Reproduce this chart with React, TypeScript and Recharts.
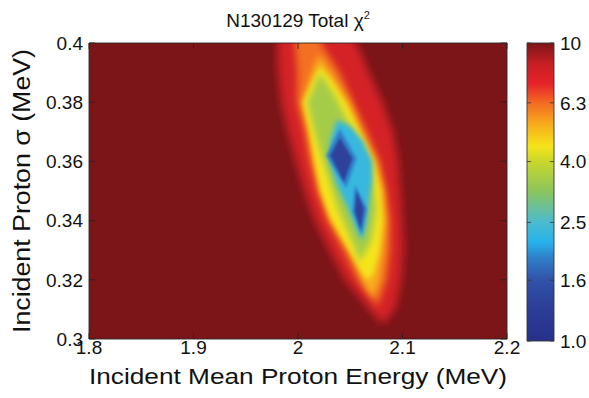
import React from 'react';
import { ScatterChart, Scatter, XAxis, YAxis, ReferenceArea, ReferenceLine } from 'recharts';

// Axis ticks
const energyTicks = [1.8, 1.9, 2.0, 2.1, 2.2];
const sigmaTicks = [0.3, 0.32, 0.34, 0.36, 0.38, 0.4];
const colorbarTicks = [1.0, 1.6, 2.5, 4.0, 6.3, 10];
const colorbarLabels = ['1.0', '1.6', '2.5', '4.0', '6.3', '10'];

// Colormap anchors (chi^2 value -> colour), log-spaced colour bar
const cmapValues = [1.0, 1.3, 1.6, 1.9, 2.15, 2.5, 3.2, 4.0, 4.5, 5.3, 6.3, 7.3, 8.5, 10];
const cmapColors = [
  '#27308b', '#2c3e98', '#3152a9', '#2f7fc9', '#27b3ec', '#4bbbd0', '#8dc55a',
  '#c9d72c', '#f5e41b', '#f8ae1c', '#f36a22', '#e6232a', '#c81e24', '#7c1518',
];

// Contour rings of total chi^2: [incident mean proton energy (MeV), proton sigma (MeV)]
const ring10: [number, number][] = [
  [1.98, 0.406], [1.98, 0.4], [1.981, 0.39], [1.984, 0.38], [1.99, 0.37], [1.998, 0.36],
  [2.006, 0.35], [2.016, 0.34], [2.03, 0.33], [2.045, 0.32], [2.068, 0.31], [2.081, 0.305],
  [2.093, 0.31], [2.099, 0.32], [2.101, 0.33], [2.1, 0.34], [2.098, 0.35], [2.096, 0.36],
  [2.091, 0.37], [2.081, 0.38], [2.068, 0.39], [2.056, 0.4], [2.051, 0.406],
];
const ring63: [number, number][] = [
  [1.996, 0.406], [1.997, 0.4], [1.999, 0.39], [1.999, 0.38], [2.006, 0.37], [2.011, 0.36],
  [2.018, 0.35], [2.028, 0.34], [2.043, 0.33], [2.057, 0.32], [2.076, 0.311], [2.085, 0.32],
  [2.088, 0.33], [2.088, 0.34], [2.084, 0.35], [2.078, 0.36], [2.066, 0.37], [2.053, 0.38],
  [2.04, 0.39], [2.022, 0.4], [2.019, 0.406],
];
const ring52: [number, number][] = [
  [2.02, 0.396], [2.032, 0.39], [2.049, 0.38], [2.061, 0.37], [2.075, 0.36], [2.082, 0.35],
  [2.084, 0.34], [2.082, 0.33], [2.078, 0.32], [2.072, 0.314], [2.064, 0.318], [2.05, 0.33],
  [2.032, 0.34], [2.022, 0.35], [2.016, 0.36], [2.011, 0.37], [2.004, 0.38], [2.013, 0.39],
];
const ring45: [number, number][] = [
  [2.021, 0.392], [2.031, 0.388], [2.047, 0.379], [2.059, 0.37], [2.072, 0.36], [2.079, 0.35],
  [2.081, 0.34], [2.078, 0.33], [2.072, 0.322], [2.066, 0.32], [2.06, 0.323], [2.047, 0.331],
  [2.031, 0.341], [2.022, 0.35], [2.016, 0.36], [2.011, 0.37], [2.005, 0.38], [2.015, 0.388],
];
const ring35: [number, number][] = [
  [2.021, 0.39], [2.037, 0.381], [2.051, 0.371], [2.069, 0.36], [2.075, 0.344], [2.07, 0.333],
  [2.059, 0.326], [2.055, 0.33], [2.038, 0.344], [2.024, 0.36], [2.015, 0.371], [2.009, 0.38],
];
const ring25: [number, number][] = [
  [2.037, 0.374], [2.05, 0.372], [2.062, 0.367], [2.071, 0.36], [2.071, 0.354], [2.067, 0.344],
  [2.065, 0.338], [2.061, 0.333], [2.055, 0.338], [2.048, 0.344], [2.037, 0.352], [2.03, 0.36],
  [2.031, 0.367],
];
const ring19a: [number, number][] = [[2.04, 0.371], [2.056, 0.361], [2.046, 0.351], [2.027, 0.362]];
const ring19b: [number, number][] = [[2.0545, 0.352], [2.066, 0.344], [2.061, 0.335], [2.052, 0.343]];
const ring15a: [number, number][] = [[2.04, 0.368], [2.052, 0.361], [2.044, 0.353], [2.031, 0.362]];
const ring15b: [number, number][] = [[2.056, 0.35], [2.063, 0.344], [2.06, 0.337], [2.0545, 0.343]];

const contourRings = [ring10, ring63, ring52, ring45, ring35, ring25, ring19a, ring19b, ring15a, ring15b];
const contourFillValues = [8.0, 6.2, 5.3, 4.5, 3.5, 2.3, 1.9, 1.9, 1.35, 1.35];

// Softening per contour (px of Gaussian blur)
const contourBlur = [4, 3.5, 3.2, 2.8, 3, 2.5, 1.6, 1.6, 1.2, 1.2];

const W = 589;
const H = 398;
const Y_AXIS_W = 50;
const X_AXIS_H = 26;
const FONT = '"Liberation Sans", Arial, Helvetica, sans-serif';
const BG = '#7b1518';

const hexToRgb = (h: string) => [1, 3, 5].map((i) => parseInt(h.slice(i, i + 2), 16));

function colormap(v: number): string {
  const lv = Math.log10(v);
  const ls = cmapValues.map((x) => Math.log10(x));
  if (lv <= ls[0]) return cmapColors[0];
  for (let i = 1; i < ls.length; i++) {
    if (lv <= ls[i]) {
      const t = (lv - ls[i - 1]) / (ls[i] - ls[i - 1]);
      const a = hexToRgb(cmapColors[i - 1]);
      const b = hexToRgb(cmapColors[i]);
      const c = a.map((x, k) => Math.round(x + (b[k] - x) * t));
      return `rgb(${c[0]},${c[1]},${c[2]})`;
    }
  }
  return cmapColors[cmapColors.length - 1];
}

const filledRing = (color: string, filterId: string) => (props: any) => {
  const pts: { x: number; y: number }[] = props.points || [];
  if (!pts.length) return <g />;
  const d = pts.map((p, i) => `${i ? 'L' : 'M'}${p.x},${p.y}`).join(' ') + ' Z';
  return <path d={d} fill={color} stroke="none" filter={`url(#${filterId})`} />;
};

const noMarker = () => <g />;

export default function App() {
  const tickStyle = { fontSize: 19, fill: '#111', fontFamily: FONT };
  return (
    <div
      style={{
        position: 'fixed', left: 0, top: 0, width: W, height: H,
        background: '#fff', fontFamily: FONT, overflow: 'hidden',
      }}
    >
      <svg width={0} height={0} style={{ position: 'absolute' }}>
        <defs>
          {contourBlur.map((b, i) => (
            <filter key={i} id={`soft${i}`} x="-60%" y="-60%" width="220%" height="220%">
              <feGaussianBlur stdDeviation={b} />
            </filter>
          ))}
          <linearGradient id="cbarGrad" x1="0" y1="1" x2="0" y2="0">
            {cmapValues.map((v, i) => (
              <stop key={i} offset={Math.log10(v)} stopColor={cmapColors[i]} />
            ))}
          </linearGradient>
        </defs>
      </svg>

      {/* main map */}
      <div style={{ position: 'absolute', left: 0, top: 0 }}>
        <ScatterChart
          width={W}
          height={H}
          margin={{ top: 43, right: W - 507, bottom: H - 339 - X_AXIS_H, left: 89 - Y_AXIS_W }}
        >
          <XAxis
            type="number" dataKey="e" domain={[1.8, 2.2]} ticks={energyTicks}
            allowDataOverflow height={X_AXIS_H} tickSize={0} tickMargin={2}
            axisLine={false} tickLine={false} tick={tickStyle} interval={0}
          />
          <YAxis
            type="number" dataKey="s" domain={[0.3, 0.4]} ticks={sigmaTicks}
            allowDataOverflow width={Y_AXIS_W} tickSize={0} tickMargin={6}
            axisLine={false} tickLine={false} tick={tickStyle} interval={0}
          />
          <ReferenceArea x1={1.8} x2={2.2} y1={0.3} y2={0.4} fill={BG} fillOpacity={1} stroke="none" />
          {contourRings.map((ring, i) => (
            <Scatter
              key={`ring${i}`}
              data={ring.map(([e, s]) => ({ e, s }))}
              shape={noMarker}
              line={filledRing(colormap(contourFillValues[i]), `soft${i}`)}
              lineType="joint"
              isAnimationActive={false}
              legendType="none"
            />
          ))}
          {energyTicks.map((e) => (
            <ReferenceLine key={`bt${e}`} segment={[{ x: e, y: 0.3 }, { x: e, y: 0.302 }]} stroke="#222" strokeWidth={0.8} zIndex={900} />
          ))}
          {energyTicks.map((e) => (
            <ReferenceLine key={`tt${e}`} segment={[{ x: e, y: 0.4 }, { x: e, y: 0.398 }]} stroke="#222" strokeWidth={0.8} zIndex={900} />
          ))}
          {sigmaTicks.map((s) => (
            <ReferenceLine key={`lt${s}`} segment={[{ x: 1.8, y: s }, { x: 1.806, y: s }]} stroke="#222" strokeWidth={0.8} zIndex={900} />
          ))}
          {sigmaTicks.map((s) => (
            <ReferenceLine key={`rt${s}`} segment={[{ x: 2.2, y: s }, { x: 2.194, y: s }]} stroke="#222" strokeWidth={0.8} zIndex={900} />
          ))}
          <ReferenceArea x1={1.8} x2={2.2} y1={0.3} y2={0.4} fill="none" stroke="#2a2a2a" strokeWidth={0.9} zIndex={1000} />
        </ScatterChart>
      </div>

      {/* colour bar */}
      <div style={{ position: 'absolute', left: 0, top: 0 }}>
        <ScatterChart width={W} height={H} margin={{ top: 43, right: 0, bottom: H - 341, left: 527 }}>
          <XAxis type="number" dataKey="x" domain={[0, 1]} hide />
          <YAxis
            type="number" dataKey="v" orientation="right" scale="log" domain={[1, 10]}
            ticks={colorbarTicks} width={35} tickSize={0} tickMargin={6}
            axisLine={false} tickLine={false} tick={tickStyle} interval={0}
            tickFormatter={(v: number) => colorbarLabels[colorbarTicks.indexOf(v)] ?? String(v)}
          />
          <Scatter data={colorbarTicks.map((v) => ({ x: 0.5, v }))} shape={noMarker} isAnimationActive={false} legendType="none" />
          <ReferenceArea x1={0} x2={1} y1={1} y2={10} fill="url(#cbarGrad)" fillOpacity={1} stroke="#333" strokeWidth={0.9} />
          {colorbarTicks.map((v) => (
            <ReferenceLine key={`cl${v}`} segment={[{ x: 0, y: v }, { x: 0.15, y: v }]} stroke="#333" strokeWidth={0.8} zIndex={900} />
          ))}
          {colorbarTicks.map((v) => (
            <ReferenceLine key={`cr${v}`} segment={[{ x: 0.85, y: v }, { x: 1, y: v }]} stroke="#333" strokeWidth={0.8} zIndex={900} />
          ))}
        </ScatterChart>
      </div>

      {/* title and axis titles */}
      <svg width={W} height={H} style={{ position: 'absolute', left: 0, top: 0, pointerEvents: 'none' }}>
        <text x={298} y={27} textAnchor="middle" fontSize={19} fill="#111" fontFamily={FONT}>
          N130129 Total χ<tspan fontSize={11} dy={-8}>2</tspan>
        </text>
        <text
          x={298} y={384} textAnchor="middle" fontSize={22} fill="#111" fontFamily={FONT}
          textLength={418} lengthAdjust="spacingAndGlyphs"
        >
          Incident Mean Proton Energy (MeV)
        </text>
        <text
          x={0} y={0} transform="translate(30,191) rotate(-90)"
          textAnchor="middle" fontSize={23} fill="#111" fontFamily={FONT}
          textLength={284} lengthAdjust="spacingAndGlyphs"
        >
          Incident Proton σ (MeV)
        </text>
      </svg>
    </div>
  );
}
